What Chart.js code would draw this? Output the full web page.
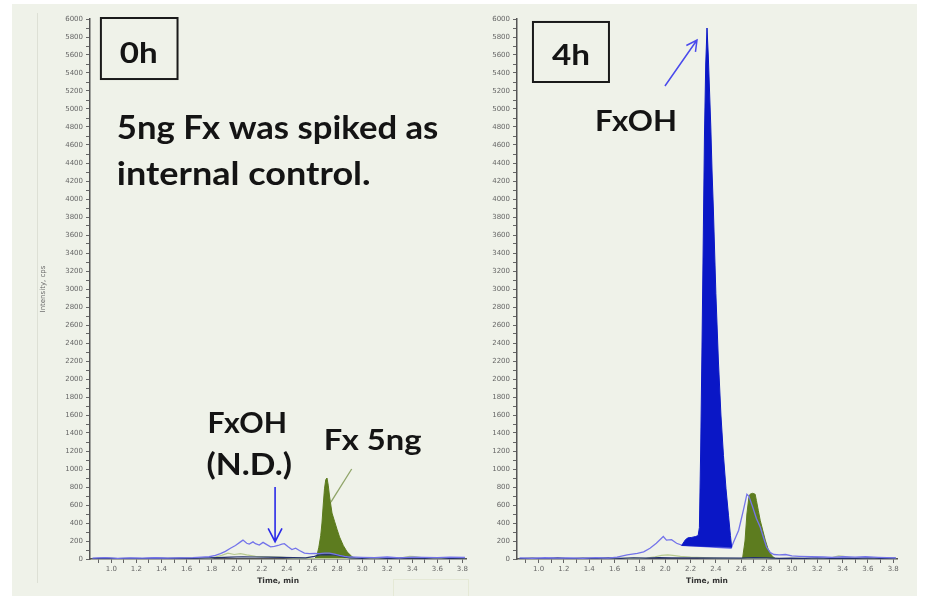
<!DOCTYPE html>
<html>
<head>
<meta charset="utf-8">
<script src="https://cdn.jsdelivr.net/npm/chart.js@4.4.1/dist/chart.umd.min.js"></script>
<style>
  body { margin: 0; background: #ffffff; }
  #panel { position: absolute; left: 12px; top: 4px; width: 905px; height: 592px; background: #eff2e9; }
  #guide { position: absolute; left: 37px; top: 13px; width: 0; height: 570px; border-left: 1px solid #dde0d5; }
  #stamp { position: absolute; left: 393px; top: 579px; width: 74px; height: 17px; border: 1px solid #e5e9d6; border-bottom: none; }
  canvas { position: absolute; top: 4px; }
  #chart0h { left: 12px; }
  #chart4h { left: 470px; }
</style>
</head>
<body>
<div id="panel"></div>
<div id="guide"></div>
<div id="stamp"></div>
<canvas id="chart0h" width="458" height="592"></canvas>
<canvas id="chart4h" width="447" height="592"></canvas>
<script>
// axis labels
const xTickLabels = ['1.0', '1.2', '1.4', '1.6', '1.8', '2.0', '2.2', '2.4', '2.6', '2.8', '3.0', '3.2', '3.4', '3.6', '3.8'];
const yTickLabels = [0, 200, 400, 600, 800, 1000, 1200, 1400, 1600, 1800, 2000, 2200, 2400, 2600, 2800, 3000,
  3200, 3400, 3600, 3800, 4000, 4200, 4400, 4600, 4800, 5000, 5200, 5400, 5600, 5800, 6000];

// ---- 0h sample ----
const fxoh0Time  = [0.85, 0.95, 1.05, 1.15, 1.25, 1.35, 1.45, 1.55, 1.65, 1.72, 1.78, 1.83, 1.87, 1.91, 1.95, 1.99, 2.03, 2.05, 2.08, 2.10,
  2.13, 2.15, 2.18, 2.21, 2.24, 2.27, 2.30, 2.33, 2.36, 2.38, 2.41, 2.44, 2.47, 2.50, 2.54, 2.58, 2.62, 2.66, 2.70, 2.74,
  2.78, 2.82, 2.86, 2.90, 2.95, 3.00, 3.10, 3.20, 3.30, 3.40, 3.50, 3.60, 3.70, 3.82];
const fxoh0Value = [10, 15, 8, 12, 10, 14, 9, 12, 15, 20, 25, 40, 60, 85, 120, 150, 190, 210, 175, 165,
  190, 170, 155, 185, 160, 135, 140, 150, 165, 170, 135, 105, 120, 95, 65, 60, 62, 60, 65, 65,
  55, 40, 30, 22, 20, 18, 15, 22, 12, 20, 18, 15, 20, 18];

const base0Time  = [0.85, 0.95, 1.05, 1.15, 1.25, 1.35, 1.45, 1.55, 1.65, 1.75, 1.85, 1.95, 2.05, 2.15, 2.25, 2.35, 2.45, 2.55,
  2.62, 2.66, 2.72, 2.78, 2.84, 2.90, 3.00, 3.10, 3.20, 3.30, 3.40, 3.50, 3.60, 3.70, 3.82];
const base0Value = [5, 10, 4, 8, 5, 9, 6, 10, 8, 12, 15, 20, 25, 22, 20, 18, 15, 12,
  30, 45, 48, 45, 30, 12, 8, 14, 6, 10, 12, 8, 14, 6, 10];

const fxTrace0Time  = [0.85, 1.50, 1.80, 1.88, 1.93, 1.98, 2.03, 2.08, 2.15, 2.25, 2.35, 2.45, 2.60, 3.00, 3.30, 3.38, 3.42, 3.50, 3.82];
const fxTrace0Value = [3, 5, 10, 40, 65, 50, 60, 45, 30, 25, 20, 10, 5, 5, 10, 30, 28, 10, 5];

const fxPeak0Time  = [2.62, 2.64, 2.655, 2.67, 2.68, 2.69, 2.70, 2.71, 2.72, 2.73, 2.74, 2.76, 2.78, 2.80, 2.82, 2.85, 2.88, 2.92, 2.96];
const fxPeak0Value = [0, 40, 130, 260, 400, 600, 780, 880, 900, 820, 700, 510, 420, 330, 245, 150, 80, 25, 0];

// ---- 4h sample ----
const fxoh4Time  = [0.85, 0.95, 1.05, 1.15, 1.25, 1.35, 1.45, 1.55, 1.62, 1.70, 1.78, 1.83, 1.88, 1.93, 1.985, 2.01, 2.05, 2.09, 2.13,
  2.52, 2.54, 2.58, 2.62, 2.645, 2.66, 2.69, 2.72, 2.75, 2.78, 2.80, 2.83, 2.86, 2.90, 2.95, 3.00, 3.06, 3.15,
  3.25, 3.32, 3.40, 3.50, 3.58, 3.68, 3.82];
const fxoh4Value = [12, 8, 14, 10, 12, 8, 15, 10, 20, 45, 63, 80, 120, 175, 250, 210, 215, 175, 155,
  120, 190, 320, 560, 720, 700, 580, 450, 355, 220, 133, 70, 50, 45, 50, 35, 30, 25,
  22, 18, 25, 20, 25, 18, 12];

const base4Time  = [0.85, 0.95, 1.05, 1.15, 1.25, 1.35, 1.45, 1.55, 1.65, 1.75, 1.85, 1.95, 2.05, 2.60, 2.70, 2.80, 2.90,
  3.00, 3.10, 3.20, 3.30, 3.40, 3.50, 3.60, 3.70, 3.82];
const base4Value = [5, 10, 4, 12, 5, 9, 6, 12, 8, 14, 10, 15, 12, 10, 15, 12, 8,
  10, 6, 12, 8, 10, 6, 12, 8, 10];

const fxTrace4Time  = [0.85, 1.50, 1.85, 1.92, 1.97, 2.02, 2.06, 2.12, 2.20, 2.30, 2.40, 2.60, 3.00, 3.30, 3.37, 3.41, 3.47, 3.82];
const fxTrace4Value = [3, 5, 10, 25, 40, 45, 40, 30, 20, 15, 10, 5, 5, 10, 35, 30, 12, 5];

const fxPeak4Time  = [2.61, 2.63, 2.645, 2.66, 2.67, 2.69, 2.71, 2.72, 2.735, 2.75, 2.77, 2.79, 2.81, 2.83, 2.85, 2.87];
const fxPeak4Value = [0, 200, 500, 680, 720, 730, 720, 650, 540, 430, 320, 210, 120, 60, 25, 5];

const fxohPeak4Time  = [2.13, 2.16, 2.18, 2.21, 2.24, 2.26, 2.27, 2.28, 2.29, 2.30, 2.31, 2.32, 2.33, 2.34, 2.35, 2.36, 2.37,
  2.38, 2.40, 2.42, 2.44, 2.46, 2.48, 2.50, 2.515, 2.525];
const fxohPeak4Value = [150, 215, 235, 240, 250, 260, 350, 1200, 2300, 3500, 4700, 5500, 5900, 5600, 5200, 4800, 4300,
  3900, 2950, 2200, 1600, 1150, 780, 480, 260, 130];
// integration baseline under the FxOH peak
const fxohBase4Time  = [2.13, 2.525];
const fxohBase4Value = [150, 130];

const pts = (ts, vs) => ts.map((t, i) => ({ x: t, y: vs[i] }));

function trace(times, values, color, width, order) {
  return { data: pts(times, values), borderColor: color, borderWidth: width, pointRadius: 0, fill: false, order };
}

function filled(times, values, color, order, target) {
  return { data: pts(times, values), borderColor: color, backgroundColor: color, borderWidth: 1,
           pointRadius: 0, fill: target, order };
}

// bold callout text, squeezed to the span it should cover
function fitText(ctx, text, x0, x1, base, cap) {
  ctx.save();
  ctx.font = `bold ${cap / 0.72}px Lato`;
  ctx.fillStyle = '#141414';
  ctx.textBaseline = 'alphabetic';
  const w = ctx.measureText(text).width;
  ctx.translate(x0, base);
  ctx.scale((x1 - x0) / w, 1);
  ctx.fillText(text, 0, 0);
  ctx.restore();
}

function arrowLine(ctx, x0, y0, x1, y1, color, width, head) {
  ctx.strokeStyle = color;
  ctx.lineWidth = width;
  ctx.beginPath();
  ctx.moveTo(x0, y0);
  ctx.lineTo(x1, y1);
  if (head) {
    const a = Math.atan2(y1 - y0, x1 - x0);
    ctx.moveTo(x1 - head * Math.cos(a - 0.48), y1 - head * Math.sin(a - 0.48));
    ctx.lineTo(x1, y1);
    ctx.lineTo(x1 - head * Math.cos(a + 0.48), y1 - head * Math.sin(a + 0.48));
  }
  ctx.stroke();
}

const annotate = {
  id: 'annotate',
  afterDraw(chart, args, opts) {
    const { ctx, scales: { x, y } } = chart;
    const px = t => x.getPixelForValue(t);
    const py = v => y.getPixelForValue(v);
    ctx.save();
    (opts.boxes || []).forEach(b => {
      ctx.lineWidth = 2;
      ctx.strokeStyle = '#1a1a1a';
      ctx.strokeRect(px(b.t0), py(b.v0), px(b.t1) - px(b.t0), py(b.v1) - py(b.v0));
    });
    (opts.arrows || []).forEach(a => {
      arrowLine(ctx, px(a.t0), py(a.v0), px(a.t1), py(a.v1), a.color, a.width, a.head);
    });
    (opts.texts || []).forEach(tx => fitText(ctx, tx.text, px(tx.t0), px(tx.t1), py(tx.v), tx.cap));
    ctx.restore();
  }
};

function xTicks(scale) {
  const ticks = [];
  xTickLabels.forEach(l => {
    const v = parseFloat(l);
    ticks.push({ value: +(v - 0.1).toFixed(2), major: false });
    ticks.push({ value: v, major: true });
  });
  scale.ticks = ticks;
}

function yTicks(scale) {
  const ticks = [];
  yTickLabels.forEach(v => {
    ticks.push({ value: v, major: true });
    if (v < 6000) ticks.push({ value: v + 100, major: false });
  });
  scale.ticks = ticks;
}

function makeChart(canvasId, datasets, axisWidth, padRight, showTitle, notes) {
  return new Chart(document.getElementById(canvasId), {
    type: 'line',
    data: { datasets },
    plugins: [annotate],
    options: {
      responsive: false,
      animation: false,
      devicePixelRatio: 1,
      layout: { padding: { top: 15, right: padRight, bottom: 0, left: 0 } },
      plugins: { legend: { display: false }, tooltip: { enabled: false }, annotate: notes },
      scales: {
        x: {
          type: 'linear', min: 0.83, max: 3.83,
          afterBuildTicks: xTicks,
          afterFit: s => { s.height = 37; },
          grid: { drawOnChartArea: false, tickLength: 4, color: '#666' },
          border: { color: '#555', width: 1.5 },
          ticks: {
            autoSkip: false, maxRotation: 0, padding: 2, color: '#666',
            font: { family: 'DejaVu Sans', size: 7 },
            callback: (v, i, ticks) => ticks[i].major ? v.toFixed(1) : ''
          },
          title: { display: true, text: 'Time, min', color: '#333',
                   font: { family: 'DejaVu Sans', size: 7.5, weight: 'bold' }, padding: { top: 0, bottom: 10 } }
        },
        y: {
          min: 0, max: 6000,
          afterBuildTicks: yTicks,
          afterFit: s => { s.width = axisWidth; },
          grid: { drawOnChartArea: false, tickLength: 4, color: '#666' },
          border: { color: '#555', width: 1.5 },
          ticks: {
            autoSkip: false, padding: 3, color: '#666',
            font: { family: 'DejaVu Sans', size: 7 },
            callback: (v, i, ticks) => ticks[i].major ? String(v) : ''
          },
          title: { display: showTitle, text: 'Intensity, cps', color: '#666',
                   font: { family: 'DejaVu Sans', size: 7 }, padding: { top: 27, bottom: 0 } }
        }
      }
    }
  });
}

makeChart('chart0h', [
  trace(fxoh0Time, fxoh0Value, '#7474ea', 1.3, 1),
  trace(base0Time, base0Value, '#23306e', 1.2, 2),
  trace(fxTrace0Time, fxTrace0Value, '#b8ca90', 1.2, 3),
  filled(fxPeak0Time, fxPeak0Value, '#5d7c1f', 4, 'origin')
], 78, 2, true, {
  boxes: [{ t0: 0.917, t1: 1.528, v0: 6011, v1: 5333 }],
  texts: [
    { text: '0h', t0: 1.068, t1: 1.37, v: 5511, cap: 21 },
    { text: '5ng Fx was spiked as', t0: 1.044, t1: 3.608, v: 4667, cap: 23 },
    { text: 'internal control.', t0: 1.044, t1: 3.068, v: 4156, cap: 23 },
    { text: 'FxOH', t0: 1.767, t1: 2.401, v: 1400, cap: 21 },
    { text: '(N.D.)', t0: 1.759, t1: 2.441, v: 933, cap: 22 },
    { text: 'Fx 5ng', t0: 2.695, t1: 3.473, v: 1211, cap: 21 }
  ],
  arrows: [
    { t0: 2.306, v0: 800, t1: 2.306, v1: 192, color: '#2a2ae8', width: 1.6, head: 15 },
    { t0: 2.917, v0: 1000, t1: 2.751, v1: 633, color: '#8fa468', width: 1.3, head: 0 }
  ]
});

makeChart('chart4h', [
  filled(fxohPeak4Time, fxohPeak4Value, '#0a17c6', 1, '+1'),
  trace(fxohBase4Time, fxohBase4Value, 'rgba(10,23,198,0.9)', 1, 2),
  trace(fxoh4Time, fxoh4Value, '#7474ea', 1.3, 3),
  trace(base4Time, base4Value, '#23306e', 1.2, 4),
  trace(fxTrace4Time, fxTrace4Value, '#b8ca90', 1.2, 5),
  filled(fxPeak4Time, fxPeak4Value, '#5d7c1f', 6, 'origin')
], 47, 20, false, {
  boxes: [{ t0: 0.956, t1: 1.556, v0: 5967, v1: 5300 }],
  texts: [
    { text: '4h', t0: 1.106, t1: 1.406, v: 5489, cap: 21 },
    { text: 'FxOH', t0: 1.446, t1: 2.093, v: 4756, cap: 21 }
  ],
  arrows: [
    { t0: 1.998, v0: 5256, t1: 2.251, v1: 5767, color: '#4a4aec', width: 1.5, head: 12 }
  ]
});
</script>
</body>
</html>
